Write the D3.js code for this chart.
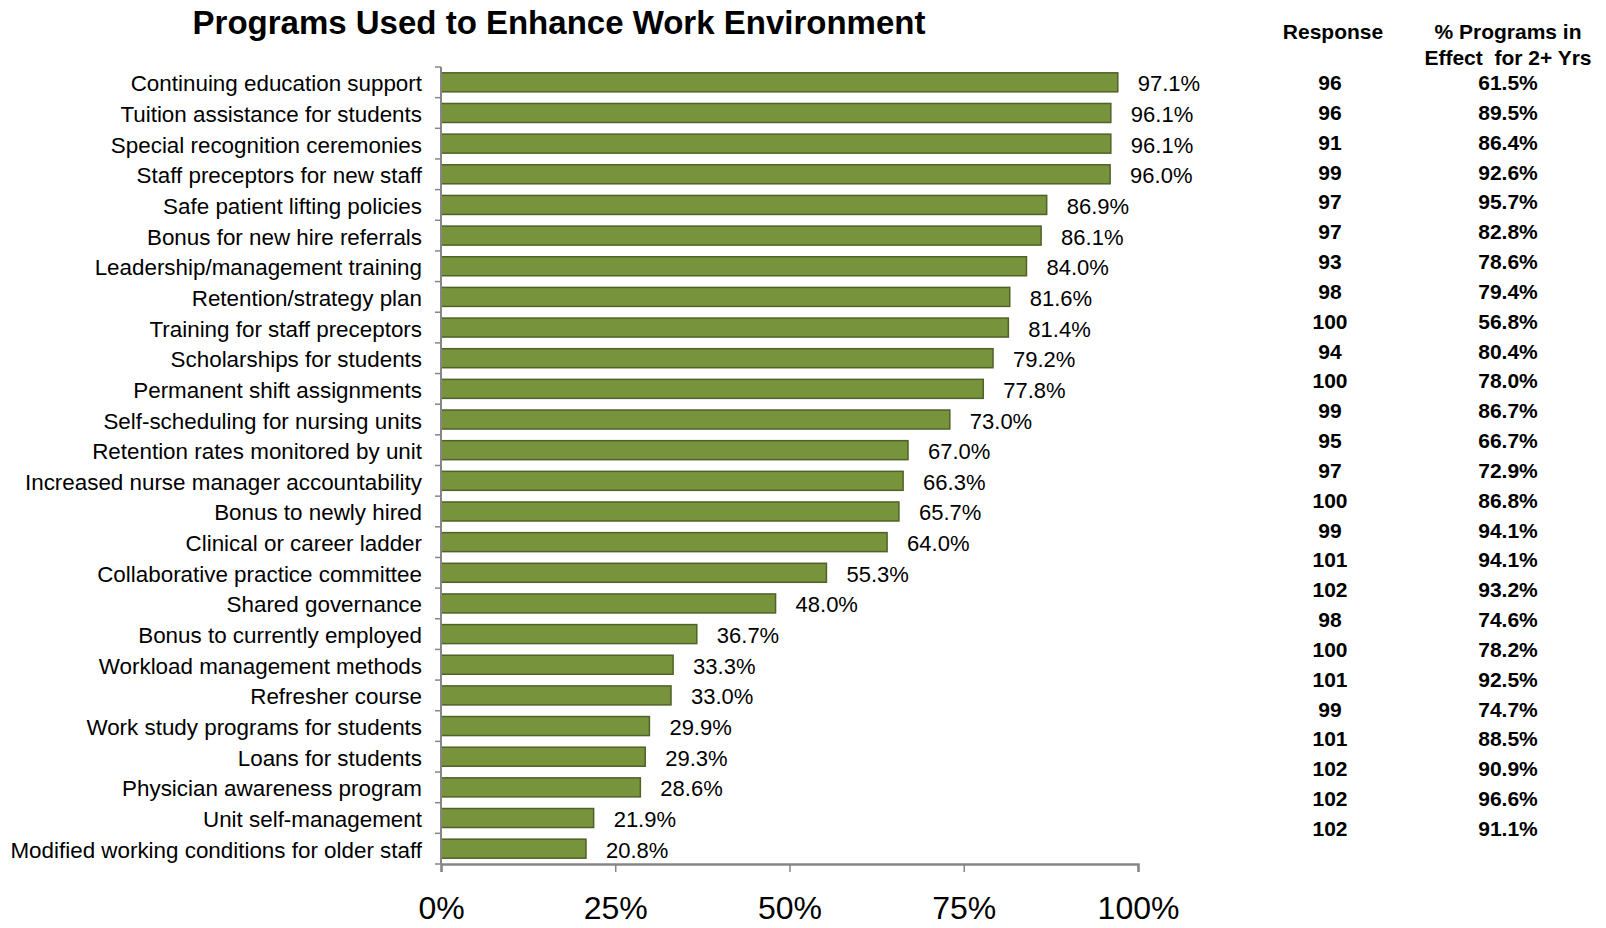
<!DOCTYPE html>
<html>
<head>
<meta charset="utf-8">
<script src="https://cdn.jsdelivr.net/npm/d3@7"></script>
<style>
  html, body { margin: 0; padding: 0; background: #fff; }
  svg { display: block; }
  text { font-family: "Liberation Sans", Arial, sans-serif; }
</style>
</head>
<body>
<svg id="chart" width="1606" height="928"></svg>
<script>
const title = "Programs Used to Enhance Work Environment";
const categories = [
  "Continuing education support",
  "Tuition assistance for students",
  "Special recognition ceremonies",
  "Staff preceptors for new staff",
  "Safe patient lifting policies",
  "Bonus for new hire referrals",
  "Leadership/management training",
  "Retention/strategy plan",
  "Training for staff preceptors",
  "Scholarships for students",
  "Permanent shift assignments",
  "Self-scheduling for nursing units",
  "Retention rates monitored by unit",
  "Increased nurse manager accountability",
  "Bonus to newly hired",
  "Clinical or career ladder",
  "Collaborative practice committee",
  "Shared governance",
  "Bonus to currently employed",
  "Workload management methods",
  "Refresher course",
  "Work study programs for students",
  "Loans for students",
  "Physician awareness program",
  "Unit self-management",
  "Modified working conditions for older staff"
];
const usedPct = [97.1, 96.1, 96.1, 96.0, 86.9, 86.1, 84.0, 81.6, 81.4, 79.2, 77.8, 73.0, 67.0, 66.3, 65.7, 64.0, 55.3, 48.0, 36.7, 33.3, 33.0, 29.9, 29.3, 28.6, 21.9, 20.8];
const responses = [96, 96, 91, 99, 97, 97, 93, 98, 100, 94, 100, 99, 95, 97, 100, 99, 101, 102, 98, 100, 101, 99, 101, 102, 102, 102];
const inEffect2Yrs = [61.5, 89.5, 86.4, 92.6, 95.7, 82.8, 78.6, 79.4, 56.8, 80.4, 78.0, 86.7, 66.7, 72.9, 86.8, 94.1, 94.1, 93.2, 74.6, 78.2, 92.5, 74.7, 88.5, 90.9, 96.6, 91.1];
const xTicks = [0, 25, 50, 75, 100];
const tableHeaders = ["Response", ["% Programs in", "Effect  for 2+ Yrs"]];

const svg = d3.select("#chart");
const axisColor = "#868686";

// Title
svg.append("text")
  .attr("x", 559).attr("y", 34)
  .attr("text-anchor", "middle")
  .style("font-size", "33px").style("font-weight", "bold")
  .attr("fill", "#000")
  .text(title);

// Scales
const x = d3.scaleLinear().domain([0, 100]).range([441, 1138]);
const y = d3.scaleBand().domain(categories).range([67, 864]).paddingInner(0.38).paddingOuter(0.19);

// Bars
svg.append("g").selectAll("rect")
  .data(categories)
  .join("rect")
  .attr("x", x(0))
  .attr("y", d => y(d))
  .attr("width", (d, i) => x(usedPct[i]) - x(0))
  .attr("height", y.bandwidth())
  .attr("fill", "#77933C")
  .attr("stroke", "#4F6228")
  .attr("stroke-width", 1.5);

// Value labels
svg.append("g").selectAll("text")
  .data(categories)
  .join("text")
  .attr("x", (d, i) => x(usedPct[i]) + 20)
  .attr("y", d => y(d) + y.bandwidth() / 2 + 9)
  .style("font-size", "22px")
  .attr("fill", "#000")
  .text((d, i) => usedPct[i].toFixed(1) + "%");

// Y axis (line + ticks at band boundaries)
const yAxisG = svg.append("g");
yAxisG.append("line")
  .attr("x1", x(0)).attr("x2", x(0))
  .attr("y1", y.range()[0]).attr("y2", y.range()[1])
  .attr("stroke", axisColor).attr("stroke-width", 2);
const boundaries = d3.range(categories.length + 1).map(i => y.range()[0] + i * y.step());
yAxisG.selectAll("line.tick")
  .data(boundaries)
  .join("line")
  .attr("class", "tick")
  .attr("x1", x(0) - 6).attr("x2", x(0))
  .attr("y1", d => d).attr("y2", d => d)
  .attr("stroke", axisColor).attr("stroke-width", 1.5);

// Category labels
svg.append("g").selectAll("text")
  .data(categories)
  .join("text")
  .attr("x", 422)
  .attr("y", d => y(d) + y.bandwidth() / 2 + 9)
  .attr("text-anchor", "end")
  .style("font-size", "22.4px")
  .attr("fill", "#000")
  .text(d => d);

// X axis
const xAxis = d3.axisBottom(x).tickValues(xTicks).tickSize(8).tickFormat(d => d + "%");
const xg = svg.append("g").attr("transform", `translate(0,${y.range()[1]})`).call(xAxis);
xg.select(".domain").attr("stroke", axisColor).attr("stroke-width", 2.5);
xg.selectAll(".tick line").attr("stroke", axisColor).attr("stroke-width", 1.5);
xg.selectAll(".tick text")
  .attr("y", 55)
  .attr("dy", 0)
  .style("font-size", "32px")
  .style("font-family", "'Liberation Sans', Arial, sans-serif")
  .attr("fill", "#000");

// Table
const col1 = 1330, col2 = 1508;
const rowY = d3.scaleLinear().domain([0, categories.length - 1]).range([90, 836]);
svg.append("text")
  .attr("x", 1333).attr("y", 39)
  .attr("text-anchor", "middle")
  .style("font-size", "21px").style("font-weight", "bold")
  .text(tableHeaders[0]);
svg.append("g").selectAll("text")
  .data(tableHeaders[1])
  .join("text")
  .attr("x", col2)
  .attr("y", (d, i) => 39 + i * 26)
  .attr("text-anchor", "middle")
  .style("font-size", "21px").style("font-weight", "bold")
  .style("white-space", "pre")
  .attr("xml:space", "preserve")
  .text(d => d);

svg.append("g").selectAll("text")
  .data(responses)
  .join("text")
  .attr("x", col1)
  .attr("y", (d, i) => rowY(i))
  .attr("text-anchor", "middle")
  .style("font-size", "21px").style("font-weight", "bold")
  .text(d => d);

svg.append("g").selectAll("text")
  .data(inEffect2Yrs)
  .join("text")
  .attr("x", col2)
  .attr("y", (d, i) => rowY(i))
  .attr("text-anchor", "middle")
  .style("font-size", "21px").style("font-weight", "bold")
  .text(d => d.toFixed(1) + "%");
</script>
</body>
</html>
